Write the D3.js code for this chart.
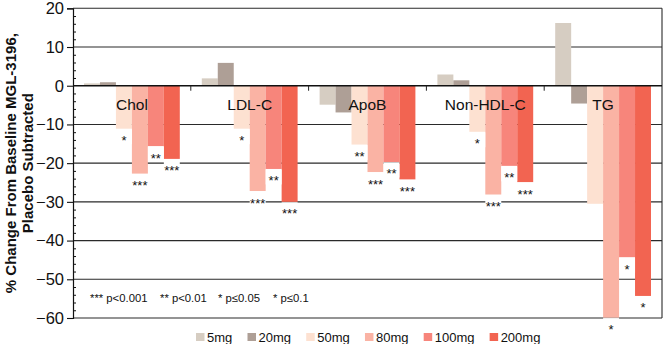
<!DOCTYPE html>
<meta charset="utf-8">
<head>
  <title>MGL-3196 lipid change by dose</title>
</head>

<style>
body {
  margin: 0;
  background: #fff;
}
svg text {
  font-family: "Liberation Sans", Arial, Helvetica, sans-serif;
  fill: #111;
}
</style>

<body>
  <svg width="664" height="344"></svg>

  <script src="https://cdn.jsdelivr.net/npm/d3@7/dist/d3.min.js"></script>

  <script>
var categories = ['Chol', 'LDL-C', 'ApoB', 'Non-HDL-C', 'TG'];
var doses = ['5mg', '20mg', '50mg', '80mg', '100mg', '200mg'];
var doseColors = ['#d6cdc2', '#ae9f96', '#fde1d1', '#fab3a4', '#f7857b', '#f26451'];

// % change from baseline, placebo subtracted, one array per dose (category order)
var dose5 = [0.6, 1.9, -4.9, 2.9, 16.2];
var dose20 = [0.9, 5.9, -6.9, 1.4, -4.6];
var dose50 = [-11.1, -11.1, -15.2, -11.9, -30.5];
var dose80 = [-22.7, -27.2, -22.3, -28.1, -59.9];
var dose100 = [-15.6, -21.5, -19.7, -20.7, -44.3];
var dose200 = [-18.9, -30.0, -24.2, -24.9, -54.3];

// significance markers under each bar
var sig5 = ['', '', '', '', ''];
var sig20 = ['', '', '', '', ''];
var sig50 = ['*', '*', '**', '*', ''];
var sig80 = ['***', '***', '***', '***', '*'];
var sig100 = ['**', '**', '**', '**', '*'];
var sig200 = ['***', '***', '***', '***', '*'];

var yTicks = [20, 10, 0, -10, -20, -30, -40, -50, -60];
var footnotes = ['*** p<0.001', '** p<0.01', '* p\u22640.05', '* p\u22640.1'];

var series = [dose5, dose20, dose50, dose80, dose100, dose200];
var sigs = [sig5, sig20, sig50, sig80, sig100, sig200];

var plotLeft = 73, plotRight = 662, plotTop = 8.3, plotBottom = 318;

var svg = d3.select('svg');

var y = d3.scaleLinear().domain([-60, 20]).range([plotBottom, plotTop]);

var step = (plotRight - plotLeft) / 5;
var x0 = d3.scaleBand()
  .domain(categories)
  .range([plotLeft, plotRight])
  .paddingInner(22 / step)
  .paddingOuter(11 / step);

var x1 = d3.scaleBand()
  .domain(doses)
  .range([0, x0.bandwidth()]);

var bars = [];
categories.forEach(function(c, ci) {
  doses.forEach(function(d, di) {
    bars.push({ cat: c, dose: d, value: series[di][ci], sig: sigs[di][ci], color: doseColors[di] });
  });
});

// gridlines (every major tick, including top and bottom frame)
svg.append('g')
  .selectAll('line')
  .data(yTicks.filter(function(v) { return v !== 0; }))
  .enter()
  .append('line')
  .attr('x1', plotLeft)
  .attr('x2', plotRight)
  .attr('y1', function(d) { return y(d); })
  .attr('y2', function(d) { return y(d); })
  .attr('stroke', '#2a2a2a')
  .attr('stroke-width', 1.1);

// right frame
svg.append('line')
  .attr('x1', plotRight).attr('x2', plotRight)
  .attr('y1', y(20)).attr('y2', y(-60))
  .attr('stroke', '#2a2a2a')
  .attr('stroke-width', 1.1);

// bars
svg.append('g')
  .selectAll('rect')
  .data(bars)
  .enter()
  .append('rect')
  .attr('x', function(d) { return x0(d.cat) + x1(d.dose); })
  .attr('width', x1.bandwidth())
  .attr('y', function(d) { return y(Math.max(0, d.value)); })
  .attr('height', function(d) { return Math.abs(y(d.value) - y(0)); })
  .attr('fill', function(d) { return d.color; });

// significance labels with white backing
var sigG = svg.append('g')
  .selectAll('g')
  .data(bars.filter(function(d) { return d.sig; }))
  .enter()
  .append('g');

sigG.append('rect')
  .attr('x', function(d) { return x0(d.cat) + x1(d.dose); })
  .attr('width', x1.bandwidth())
  .attr('y', function(d) { return y(d.value) + 0.5; })
  .attr('height', 15)
  .attr('fill', '#fff');

sigG.append('text')
  .attr('x', function(d) { return x0(d.cat) + x1(d.dose) + x1.bandwidth() / 2; })
  .attr('y', function(d) { return y(d.value) + 16.5; })
  .attr('text-anchor', 'middle')
  .style('font-size', '13px')
  .text(function(d) { return d.sig; });

// zero line
svg.append('line')
  .attr('x1', plotLeft).attr('x2', plotRight)
  .attr('y1', y(0)).attr('y2', y(0))
  .attr('stroke', '#111')
  .attr('stroke-width', 1.4);

// category separators on the zero line
svg.append('g')
  .selectAll('line')
  .data(categories.slice(1))
  .enter()
  .append('line')
  .attr('x1', function(d) { return x0(d) - x0.step() * x0.paddingInner() / 2; })
  .attr('x2', function(d) { return x0(d) - x0.step() * x0.paddingInner() / 2; })
  .attr('y1', y(0))
  .attr('y2', y(0) + 5)
  .attr('stroke', '#222')
  .attr('stroke-width', 1);

// category labels
svg.append('g')
  .selectAll('text')
  .data(categories)
  .enter()
  .append('text')
  .attr('x', function(d) { return x0(d) + x0.bandwidth() / 2; })
  .attr('y', 109.5)
  .attr('text-anchor', 'middle')
  .style('font-size', '15.5px')
  .text(function(d) { return d; });

// y axis
var yAxis = svg.append('g')
  .attr('transform', 'translate(' + plotLeft + ',0)')
  .call(d3.axisLeft(y).tickValues(yTicks).tickSize(6).tickPadding(3).tickFormat(d3.format('d')));

yAxis.select('.domain').attr('stroke', '#111').attr('stroke-width', 1.2);
yAxis.selectAll('.tick line').attr('stroke', '#111').attr('stroke-width', 1.1);
yAxis.selectAll('.tick text')
  .style('font-size', '16.5px')
  .style('font-family', '"Liberation Sans", Arial, sans-serif')
  .attr('fill', '#111');

var minor = d3.range(-60, 21, 2).filter(function(v) { return v % 10 !== 0; });
var yMinor = svg.append('g')
  .attr('transform', 'translate(' + plotLeft + ',0)')
  .call(d3.axisRight(y).tickValues(minor).tickSize(3).tickFormat(''));
yMinor.select('.domain').remove();
yMinor.selectAll('.tick line').attr('stroke', '#111');

// y axis title
var yTitle = svg.append('text')
  .attr('transform', 'translate(0,' + ((plotTop + plotBottom) / 2) + ') rotate(-90)')
  .attr('text-anchor', 'middle')
  .style('font-size', '15px')
  .style('font-weight', 'bold');
yTitle.append('tspan').attr('x', 0).attr('y', 15.5).text('% Change From Baseline MGL-3196,');
yTitle.append('tspan').attr('x', 0).attr('y', 32.5).text('Placebo Subtracted');

// p-value footnote
var footX = [90, 160, 218, 273];
svg.append('g')
  .selectAll('text')
  .data(footnotes)
  .enter()
  .append('text')
  .attr('x', function(d, i) { return footX[i]; })
  .attr('y', 301.5)
  .style('font-size', '11.3px')
  .style('white-space', 'pre')
  .text(function(d) { return d; });

// legend
var legend = svg.append('g').attr('transform', 'translate(196,0)');
var lx = 0;
doses.forEach(function(d, i) {
  var item = legend.append('g').attr('transform', 'translate(' + lx + ',0)');
  item.append('rect')
    .attr('x', 0).attr('y', 333)
    .attr('width', 8.5).attr('height', 8)
    .attr('fill', doseColors[i]);
  var t = item.append('text')
    .attr('x', 11).attr('y', 341.5)
    .style('font-size', '13px')
    .text(d);
  lx += 11 + t.node().getComputedTextLength() + 15.2;
});
  </script>
</body>
</html>
